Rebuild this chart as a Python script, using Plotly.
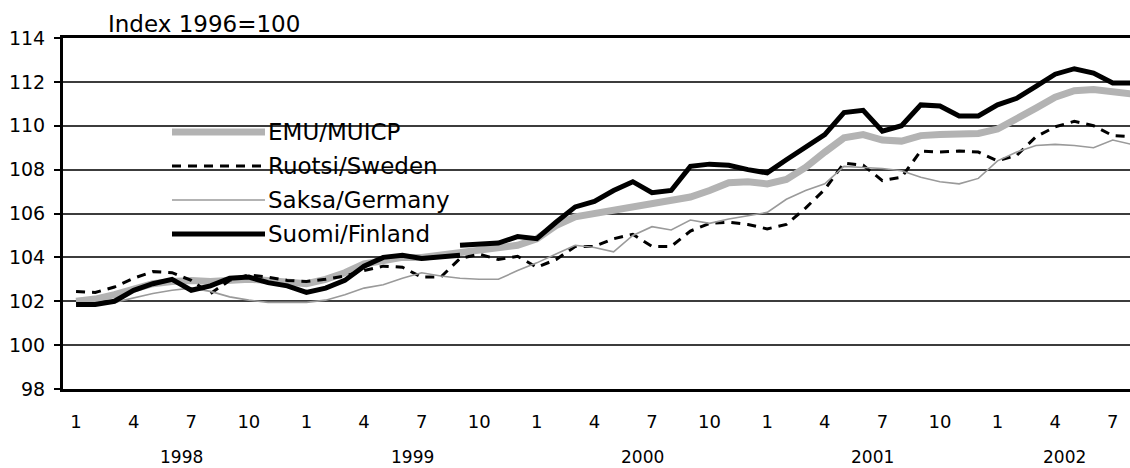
import plotly.graph_objects as go

# ---------------- data ----------------
years = [1998, 1999, 2000, 2001, 2002]
months_in_year = [12, 12, 12, 12, 8]
label_months = [1, 4, 7, 10]

series_names = ["EMU/MUICP", "Ruotsi/Sweden", "Saksa/Germany", "Suomi/Finland"]

emu = [102.0, 102.1, 102.3, 102.55, 102.8, 102.9, 102.95, 102.9, 102.95, 103.0, 102.95, 102.9,
       102.8, 103.0, 103.3, 103.7, 103.85, 104.0, 104.0, 104.1, 104.2, 104.3, 104.45, 104.55,
       104.85, 105.45, 105.85, 106.0, 106.2, 106.3, 106.5, 106.6, 106.75, 107.05, 107.4, 107.45,
       107.35, 107.55, 108.1, 108.8, 109.45, 109.6, 109.35, 109.3, 109.55, 109.6, 109.65, 109.65,
       109.85, 110.3, 110.8, 111.3, 111.6, 111.65, 111.55, 111.45]

sweden = [102.45, 102.4, 102.65, 103.05, 103.35, 103.3, 102.95, 102.35, 102.95, 103.2, 103.1, 102.95,
          102.9, 103.0, 103.15, 103.4, 103.6, 103.55, 103.1, 103.1, 103.95, 104.15, 103.9, 104.05,
          103.55, 103.9, 104.5, 104.5, 104.85, 105.05, 104.5, 104.5, 105.2, 105.55, 105.6, 105.5,
          105.3, 105.5, 106.25, 107.1, 108.3, 108.2, 107.5, 107.65, 108.85, 108.8, 108.85, 108.8,
          108.4, 108.65, 109.5, 109.95, 110.2, 110.0, 109.55, 109.5]

germany = [101.9, 101.9, 101.95, 102.15, 102.35, 102.5, 102.6, 102.45, 102.2, 102.05, 101.95, 101.95,
           101.95, 102.05, 102.3, 102.6, 102.75, 103.05, 103.3, 103.15, 103.05, 103.0, 103.0, 103.4,
           103.75, 104.15, 104.55, 104.45, 104.25, 105.0, 105.4, 105.25, 105.7, 105.55, 105.75, 105.9,
           106.05, 106.65, 107.05, 107.35, 108.15, 108.1, 108.05, 107.95, 107.65, 107.45, 107.35, 107.6,
           108.4, 108.8, 109.1, 109.15, 109.1, 109.0, 109.35, 109.15]

# Finland series has a break in Sep 1999 (old series 1/1998-9/1999, new series 9/1999-)
finland_old = [101.85, 101.85, 102.0, 102.5, 102.8, 103.0, 102.5, 102.7, 103.05, 103.1, 102.85, 102.7,
               102.4, 102.6, 102.95, 103.6, 104.0, 104.1, 103.95, 104.0, 104.1]
finland_new = [104.55, 104.6, 104.65, 104.95, 104.85, 105.6, 106.3, 106.55, 107.05, 107.45, 106.95, 107.05,
               108.15, 108.25, 108.2, 108.0, 107.85, 108.45, 109.0, 109.6, 110.6, 110.7, 109.75, 110.0,
               110.95, 110.9, 110.45, 110.45, 110.95, 111.25, 111.8, 112.35, 112.6, 112.4, 111.95, 111.95]

y_title = "Index 1996=100"

# ---------------- derived ----------------
periods = [(y, m) for y, n in zip(years, months_in_year) for m in range(1, n + 1)]
x_all = list(range(len(periods)))
x_fin_old = x_all[:len(finland_old)]
x_fin_new = x_all[len(finland_old) - 1:len(finland_old) - 1 + len(finland_new)]

tickvals = [i for i, (y, m) in enumerate(periods) if m in label_months]
ticktext = [str(periods[i][1]) for i in tickvals]

FONT = "DejaVu Sans"

styles = {
    "EMU/MUICP": dict(color="#b3b3b3", width=7),
    "Ruotsi/Sweden": dict(color="black", width=3, dash="9px,7px"),
    "Saksa/Germany": dict(color="#9a9a9a", width=1.6),
    "Suomi/Finland": dict(color="black", width=5),
}

fig = go.Figure()
fig.add_trace(go.Scatter(x=x_all, y=emu, mode="lines", name=series_names[0],
                         line=styles[series_names[0]]))
fig.add_trace(go.Scatter(x=x_all, y=sweden, mode="lines", name=series_names[1],
                         line=styles[series_names[1]]))
fig.add_trace(go.Scatter(x=x_all, y=germany, mode="lines", name=series_names[2],
                         line=styles[series_names[2]]))
fig.add_trace(go.Scatter(x=x_fin_old, y=finland_old, mode="lines", name=series_names[3],
                         line=styles[series_names[3]]))
fig.add_trace(go.Scatter(x=x_fin_new, y=finland_new, mode="lines", name=series_names[3],
                         line=styles[series_names[3]], showlegend=False))

# plot-area geometry (pixels) used to place the hand-drawn legend
L, R, T, B = 63, 1130, 38, 389
def px(xp):
    return (xp - L) / (R - L)
def py(yp):
    return (B - yp) / (B - T)

shapes = [dict(type="rect", xref="paper", yref="paper", layer="between",
               x0=px(155), x1=px(462), y0=py(247), y1=py(106),
               fillcolor="white", line=dict(width=0))]
annotations = []
leg_y = [132, 166, 200, 234]
for name, yy in zip(series_names, leg_y):
    st = styles[name]
    shapes.append(dict(type="line", xref="paper", yref="paper", layer="above",
                       x0=px(172), x1=px(265), y0=py(yy), y1=py(yy),
                       line=dict(color=st["color"], width=st["width"], dash=st.get("dash", "solid"))))
    annotations.append(dict(text=name, xref="paper", yref="paper", x=px(266), y=py(yy),
                            xanchor="left", yanchor="middle", showarrow=False,
                            font=dict(family=FONT, size=23, color="black")))

# year labels under the month labels
start = 0
for yv, n in zip(years, months_in_year):
    annotations.append(dict(text=str(yv), xref="x", yref="paper", x=start + (n - 1) / 2, y=py(457),
                            xanchor="center", yanchor="middle", showarrow=False,
                            font=dict(family=FONT, size=17, color="black")))
    start += n

annotations.append(dict(text=y_title, xref="paper", yref="paper", x=px(106), y=py(24),
                        xanchor="left", yanchor="middle", showarrow=False,
                        font=dict(family=FONT, size=23, color="black")))

fig.update_layout(
    width=1130, height=468, autosize=False,
    margin=dict(l=L, r=1130 - R, t=T, b=468 - B, pad=0),
    paper_bgcolor="white", plot_bgcolor="white",
    showlegend=False,
    font=dict(family=FONT, color="black"),
    shapes=shapes, annotations=annotations,
    xaxis=dict(range=[-0.68, 54.9], tickvals=tickvals, ticktext=ticktext,
               showgrid=False, zeroline=False, showline=True, linecolor="black",
               linewidth=3, mirror=True, ticks="", ticklabelstandoff=14,
               tickfont=dict(family=FONT, size=18, color="black")),
    yaxis=dict(range=[98, 114], tick0=98, dtick=2, showgrid=True, gridcolor="#3c3c3c",
               gridwidth=2, zeroline=False, showline=True, linecolor="black", linewidth=3,
               ticks="outside", ticklen=6, tickwidth=1.5, tickcolor="black",
               ticklabelstandoff=5,
               tickfont=dict(family=FONT, size=19, color="black")),
)

fig.write_html("out.html", config={"displayModeBar": False},
               post_script="document.body.style.margin='0px';document.body.style.padding='0px';")
